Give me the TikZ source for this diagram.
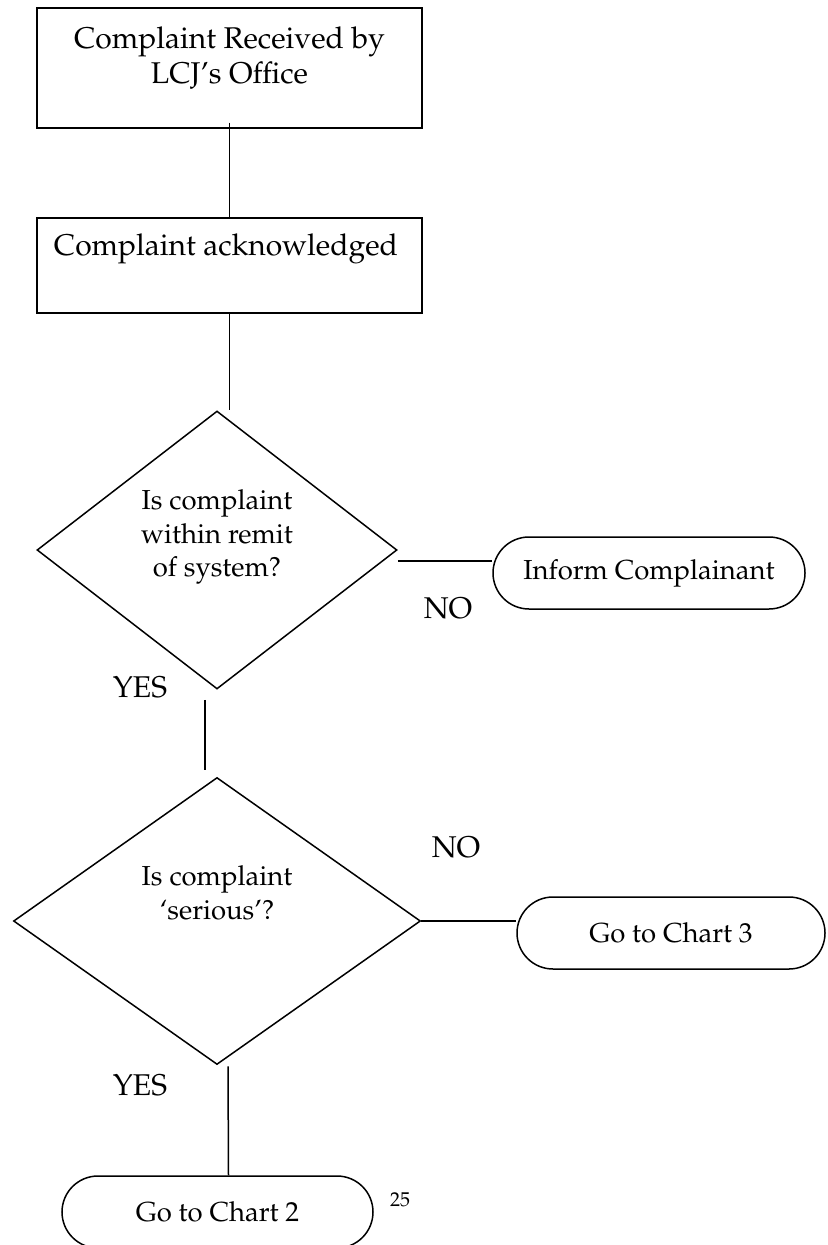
\documentclass[tikz,border=0pt]{standalone}
\usepackage[T1]{fontenc}
\usepackage{mathpazo}
\usetikzlibrary{shapes.geometric,shapes.misc}

\begin{document}
\begin{tikzpicture}[x=0.4pt, y=-0.4pt, line width=0.6pt,
  box/.style={draw, rectangle, inner sep=0pt, minimum width=154pt, minimum height=#1},
  decision/.style={draw, diamond, inner sep=0pt, minimum width=#1},
  terminal/.style={draw, rounded rectangle, inner sep=0pt, minimum height=28.8pt, minimum width=#1, font=\fontsize{11}{13}\selectfont},
  boxtext/.style={align=center, inner sep=0pt, font=\fontsize{12}{14}\selectfont},
  asktext/.style={align=center, inner sep=0pt, font=\fontsize{11}{13.4}\selectfont},
  answer/.style={inner sep=0pt, font=\fontsize{12}{14}\selectfont}]

\useasboundingbox (0,0) rectangle (827,1245);

% boxes
\node [box=48pt] (received) at (229.5,68) {};
\node [boxtext] (receivedtxt) at (229.5,58) {Complaint Received by\\LCJ's Office};
\node [box=38pt] (ack) at (229.5,265.5) {};
\node [boxtext] (acktxt) at (226,249) {Complaint acknowledged};

% decisions
\node [decision=144pt, minimum height=111.2pt] (remit) at (217,550) {};
\node [asktext] (remittxt) at (217,537) {Is complaint\\within remit\\of system?};
\node [decision=162.8pt, minimum height=114.8pt] (serious) at (217,921) {};
\node [asktext] (serioustxt) at (217,893) {Is complaint\\`serious'?};

% end points
\node [terminal=124.8pt] (inform) at (649,573) {Inform Complainant};
\node [terminal=123.2pt] (chart3) at (671,933) {Go to Chart 3};
\node [terminal=124.4pt] (chart2) at (217.5,1212) {Go to Chart 2};

% answers
\node [answer] (no1) at (448,608) {NO};
\node [answer] (yes1) at (140,687) {YES};
\node [answer] (no2) at (456,847) {NO};
\node [answer] (yes2) at (140,1085) {YES};
\node [inner sep=0pt, font=\fontsize{8}{10}\selectfont] (pagenum) at (400,1200) {25};

% connectors
\draw ([yshift=2.4pt]received.south) -- (ack.north); %received-ack
\draw (ack.south) -- (ack.south |- remit.north); %ack-remit
\draw ([shift={(0,11)}]remit.east) -- ([shift={(0,-12)}]inform.west); %remit-inform
\draw ([shift={(-12,10)}]remit.south) -- ([shift={(-12,-7)}]serious.north); %remit-serious
\draw (serious.east) -- (serious.east -| chart3.west); %serious-chart3
\draw ([shift={(11,1)}]serious.south) -- ([xshift=4.4pt]chart2.north); %serious-chart2

\end{tikzpicture}
\end{document}
